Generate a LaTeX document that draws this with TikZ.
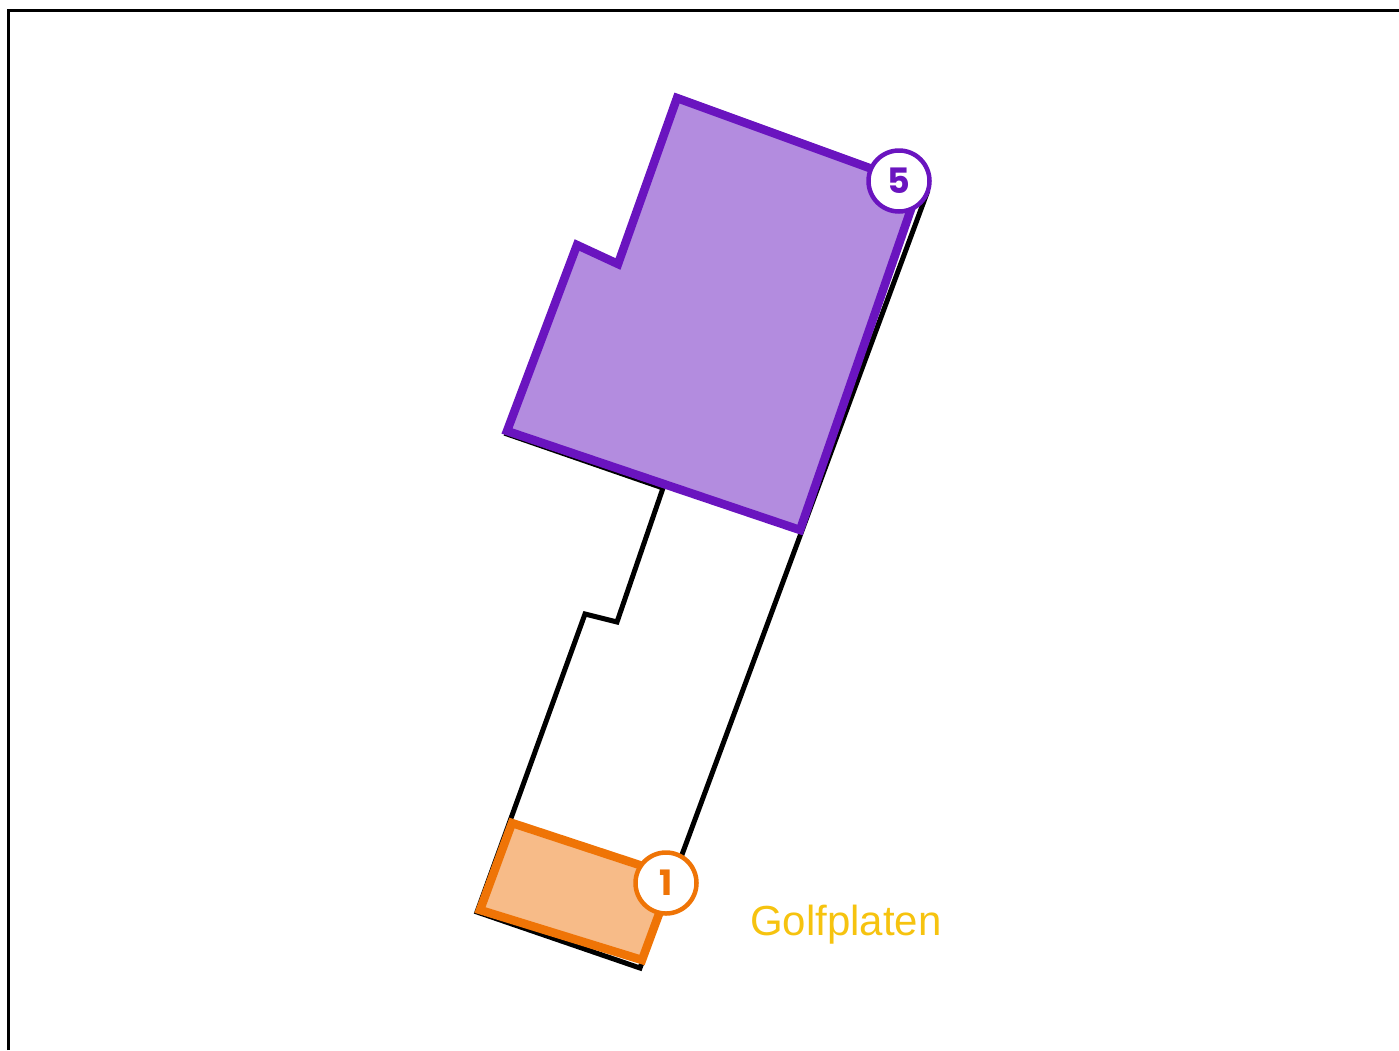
\documentclass[tikz,border=0pt]{standalone}
\usepackage{fontspec}
\setmainfont{Liberation Sans}
\newfontfamily\numfont{Poppins}
\definecolor{purpleline}{HTML}{6A14BF}
\definecolor{purplefill}{HTML}{B38CDF}
\definecolor{orangeline}{HTML}{EF7406}
\definecolor{orangefill}{HTML}{F7BB88}
\definecolor{golftext}{HTML}{F6C30F}
\tikzset{
  site/.style={draw=black, line width=5pt, line join=miter},
  zonefive/.style={draw=purpleline, fill=purplefill, line width=8.5pt, line join=miter},
  zoneone/.style={draw=orangeline, fill=orangefill, line width=8.5pt, line join=miter},
  badge/.style={circle, fill=white, draw=#1, line width=4.5pt, minimum size=61pt, inner sep=0pt, text=#1, font=\numfont\bfseries\fontsize{35}{35}\selectfont},
  frameline/.style={draw=black, line width=2.5pt}
}
\begin{document}
\begin{tikzpicture}[x=1pt,y=-1pt]
\useasboundingbox (0,0) rectangle (1399,1050);
\draw[frameline] (8.5,1050) -- (8.5,10.5) -- (1399,10.5);
% site outline
\draw[site] (663,488) -- (507,434) -- (582,252) -- (620,268) -- (675,100) -- (927,193) -- (640,968) -- (477,912) -- (585,614) -- (617,622) -- cycle;
% zone 5
\path[zonefive] (677,98) -- (919,186) -- (800,530) -- (507,431) -- (577,245) -- (618,264) -- cycle;
% zone 1
\path[zoneone] (512,823) -- (673,876) -- (642,960) -- (480,910) -- cycle;
\node[badge=purpleline] (b5) at (899,181) {5};
\node[badge=orangeline] (b1) at (666,883) {1};
\node[anchor=base west, text=golftext, font=\fontsize{42}{42}\selectfont, inner sep=0pt] (golf) at (750,935) {Golfplaten};
\end{tikzpicture}
\end{document}
